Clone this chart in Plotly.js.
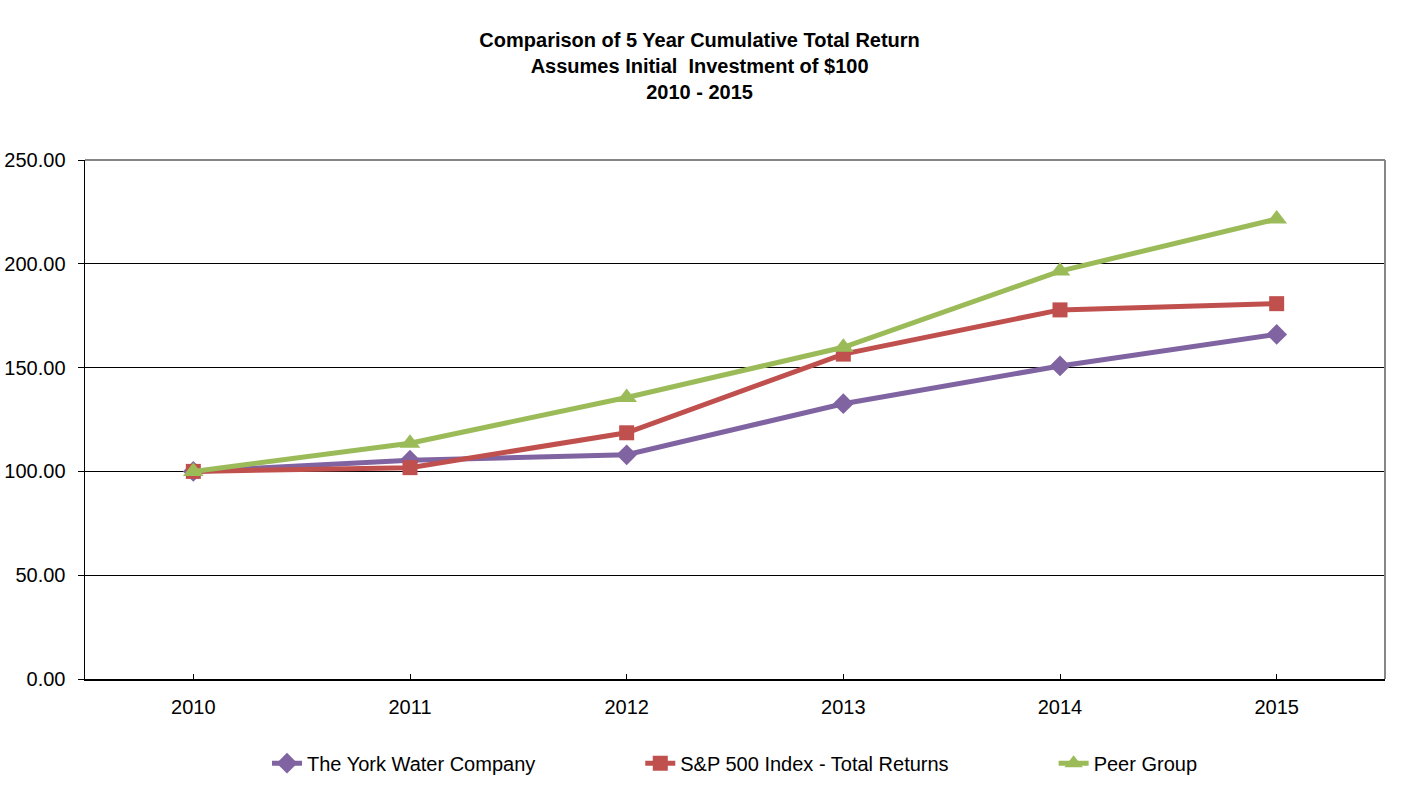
<!DOCTYPE html>
<html>
<head>
<meta charset="utf-8">
<script src="https://cdn.plot.ly/plotly-3.0.1.min.js"></script>
<style>
  html, body { margin: 0; padding: 0; background: #fff; }
  #chart { width: 1402px; height: 794px; }
</style>
</head>
<body>
<div id="chart"></div>
<script>
// values
const years = ["2010", "2011", "2012", "2013", "2014", "2015"];
const yorkWater = [100.00, 105.4, 108.0, 132.6, 150.8, 166.0];
const sp500 = [100.00, 101.8, 118.6, 156.5, 177.8, 180.8];
const peerGroup = [100.00, 113.6, 135.6, 159.8, 196.5, 221.6];
const yTicks = [0, 50, 100, 150, 200, 250];

const FONT = "'Liberation Sans', Arial, sans-serif";
const PAD = "\u00a0".repeat(18); // spacing between legend entries

function series(name, values, color, symbol, size) {
  return {
    type: "scatter",
    mode: "lines+markers",
    name: name,
    x: years,
    y: values,
    line: { color: color, width: 5 },
    marker: { color: color, symbol: symbol, size: size, line: { width: 0 } },
    hoverinfo: "x+y+name"
  };
}

const traces = [
  series("The York Water Company" + PAD, yorkWater, "#8064A2", "diamond", 16),
  series("S&P 500 Index - Total Returns" + PAD, sp500, "#C0504D", "square", 15),
  series("Peer Group", peerGroup, "#9BBB59", "triangle-up", 18)
];

const layout = {
  width: 1402,
  height: 794,
  paper_bgcolor: "#ffffff",
  plot_bgcolor: "#ffffff",
  font: { family: FONT, size: 20, color: "#000000" },
  margin: { l: 85, r: 17, t: 160, b: 114 },
  title: {
    text: "<b>Comparison of 5 Year Cumulative Total Return<br>Assumes Initial  Investment of $100<br>2010 - 2015</b>",
    font: { family: FONT, size: 20, color: "#000000" },
    x: 0.499,
    xref: "container",
    xanchor: "center",
    y: 1 - 47 / 794,
    yref: "container",
    yanchor: "top"
  },
  xaxis: {
    type: "category",
    range: [-0.5, 5.5],
    showgrid: false,
    zeroline: false,
    showline: true,
    linecolor: "#000000",
    linewidth: 1.5,
    ticks: "inside",
    ticklen: 5,
    tickcolor: "#000000",
    tickwidth: 1,
    ticklabelstandoff: 9,
    tickfont: { family: FONT, size: 20, color: "#000000" },
    fixedrange: true
  },
  yaxis: {
    range: [0, 250],
    tickvals: yTicks,
    tickformat: ".2f",
    showgrid: true,
    gridcolor: "#000000",
    gridwidth: 1,
    zeroline: false,
    showline: true,
    linecolor: "#000000",
    linewidth: 1.5,
    ticks: "outside",
    ticklen: 6,
    tickcolor: "#000000",
    tickwidth: 1,
    ticklabelstandoff: 8,
    tickfont: { family: FONT, size: 20, color: "#000000" },
    fixedrange: true
  },
  shapes: [
    // grey frame on the top and right of the plot area
    { type: "line", xref: "paper", yref: "paper", x0: 0, x1: 1, y0: 1, y1: 1,
      line: { color: "#868686", width: 2 }, layer: "above" },
    { type: "line", xref: "paper", yref: "paper", x0: 1, x1: 1, y0: 0, y1: 1,
      line: { color: "#868686", width: 2 }, layer: "above" }
  ],
  showlegend: true,
  legend: {
    orientation: "h",
    x: 0.5,
    xanchor: "center",
    y: -0.16,
    yanchor: "middle",
    font: { family: FONT, size: 20, color: "#000000" },
    bgcolor: "rgba(0,0,0,0)",
    traceorder: "normal"
  }
};

Plotly.newPlot("chart", traces, layout, {
  responsive: false,
  displayModeBar: false,
  staticPlot: true
});
</script>
</body>
</html>
